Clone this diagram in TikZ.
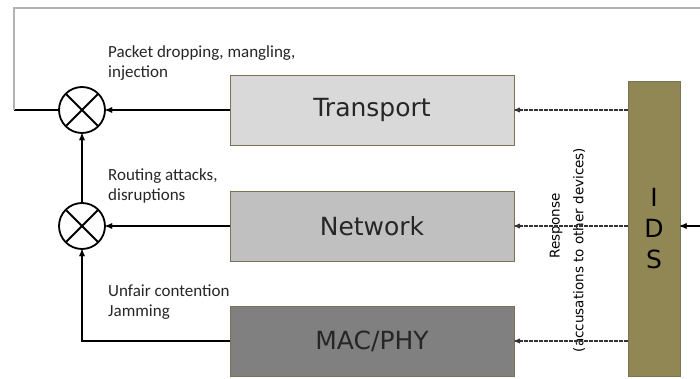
\documentclass[tikz,border=0pt]{standalone}
\usepackage{fontspec}
\newfontfamily\boxfont{DejaVu Sans}
\newfontfamily\notefont{Carlito}
\usetikzlibrary{calc,positioning,arrows,shapes}
\definecolor{trcol}{RGB}{217,217,217}
\definecolor{nwcol}{RGB}{192,192,192}
\definecolor{maccol}{RGB}{128,128,128}
\definecolor{idscol}{RGB}{145,135,85}
\definecolor{edgecol}{RGB}{120,115,85}

\begin{document}
\begin{tikzpicture}[x=1pt,y=-1pt,
		layer/.style={draw=edgecol,line width=0.7pt,minimum width=284pt,minimum height=70pt,
			font=\boxfont\fontsize{25}{28}\selectfont,text=black!85},
		mixer/.style={circle,draw,line width=1.8pt,minimum size=46pt,inner sep=0pt,
			path picture={\draw[line width=1.8pt]
				(path picture bounding box.north west) -- (path picture bounding box.south east)
				(path picture bounding box.north east) -- (path picture bounding box.south west);}},
		note/.style={anchor=north west,inner sep=0pt,align=left,
			font=\notefont\fontsize{17}{20}\selectfont,text=black!85},
		resp/.style={rotate=90,inner sep=0pt,font=\boxfont\fontsize{13.5}{16}\selectfont}]
	\useasboundingbox (0,0) rectangle (700,379);
	% protocol layers
	\node[layer,fill=trcol] (tr) at (372,110) {Transport};
	\node[layer,fill=nwcol] (nw) at (372,226) {Network};
	\node[layer,fill=maccol] (mac) at (372,341) {MAC/PHY};
	\node[draw=edgecol,fill=idscol,line width=0.7pt,minimum width=52pt,minimum height=295pt,
		align=center,font=\boxfont\fontsize{25}{31}\selectfont] (ids) at (654,229) {I\\D\\S};
	% attack points
	\node[mixer] (m1) at (82,110) {};
	\node[mixer] (m2) at (82,226) {};
	\node[note] (n1) at (108,45) {Packet dropping, mangling,\\injection};
	\node[note] (n2) at (108,168) {Routing attacks,\\disruptions};
	\node[note] (n3) at (108,285) {Unfair contention\\Jamming};
	\node[resp] (r1) at (556,226) {Response};
	\node[resp] (r2) at (579,250) {(accusations to other devices)};
	\coordinate (fb) at (14,110);
	\coordinate (fbend) at (700,8);
	\coordinate (src) at (700,226);

	\path[-stealth',line width=1.3pt]
	(tr) edge (m1)
	(nw) edge (m2)
	(m2) edge (m1)
	(src) edge (ids.east |- src);
	\draw[-stealth',line width=1.3pt] (mac.west) -| (m2.south);
	\path[-stealth',dash pattern=on 3.5pt off 1.5pt,line width=1.1pt,black!80]
	(ids.west |- tr.east) edge (tr.east)
	(ids.west |- nw.east) edge (nw.east)
	(ids.west |- mac.east) edge (mac.east);
	\draw[line width=1.3pt] (m1.west) -- (fb);
	\draw[gray!60,line width=2.2pt] (fb) |- (fbend);
\end{tikzpicture}
\end{document}
